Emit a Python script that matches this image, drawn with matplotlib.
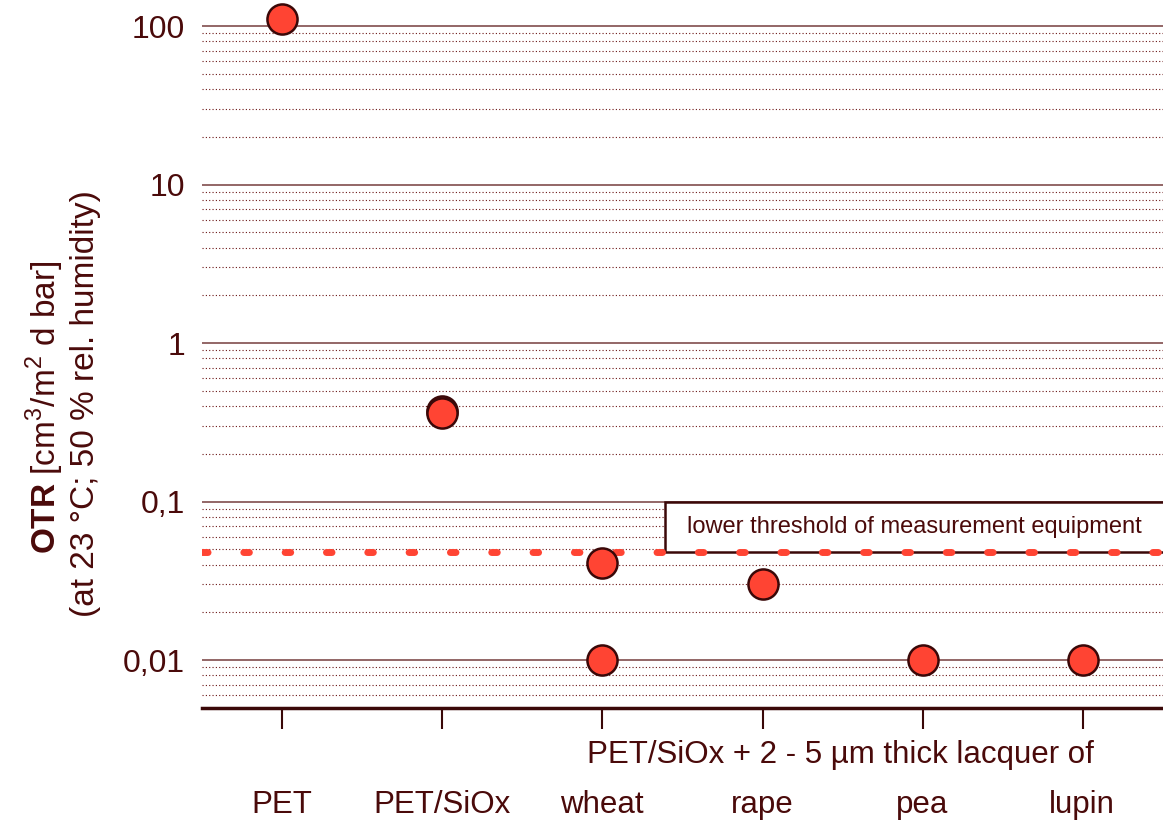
import matplotlib
matplotlib.use("Agg")
import matplotlib.pyplot as plt
from matplotlib.patches import Rectangle
from matplotlib.ticker import NullFormatter, FixedLocator

plt.rcParams['font.family'] = ['Liberation Sans', 'DejaVu Sans']
plt.rcParams['mathtext.fontset'] = 'custom'
plt.rcParams['mathtext.rm'] = 'Liberation Sans'
plt.rcParams['mathtext.bf'] = 'Liberation Sans:bold'

# ---- data ----
categories = ["PET", "PET/SiOx", "wheat", "rape", "pea", "lupin"]
point_cat = [0, 1, 1, 2, 2, 3, 4, 5]
point_otr = [110, 0.37, 0.36, 0.041, 0.01, 0.030, 0.01, 0.01]
threshold = 0.048
ytick_vals = [0.01, 0.1, 1, 10, 100]
ytick_labels = ["0,01", "0,1", "1", "10", "100"]
group_label = "PET/SiOx + 2 - 5 µm thick lacquer of"
threshold_label = "lower threshold of measurement equipment"

TXT = "#4a0a0a"
RED = "#ff4433"
EDGE = "#3a0808"

fig = plt.figure(figsize=(11.63, 8.24), dpi=100)
ax = fig.add_axes([202/1163, 116/824, 1 - 202/1163, 1 - 116/824])
ax.set_yscale("log")
ax.set_ylim(0.00498, 146)
ax.set_xlim(0, len(categories))

# gridlines
for d in ytick_vals:
    ax.axhline(d, color="#8a5a5a", lw=1.3, zorder=1)
    for m in range(2, 10):
        v = d * m
        if v < 146:
            ax.axhline(v, color="#6a1515", lw=0.8, ls=(0, (1, 2)), zorder=1)
for m in range(5, 10):
    ax.axhline(0.001 * m, color="#6a1515", lw=0.8, ls=(0, (1, 2)), zorder=1)

# threshold box
x0 = (665 - 202) / 160
ax.add_patch(Rectangle((x0, threshold), 10, 0.1 - threshold, facecolor="white",
                       edgecolor=EDGE, lw=1.8, zorder=2, clip_on=True))
ax.text((914 - 202) / 160, (0.1 * threshold) ** 0.5, threshold_label,
        ha="center", va="center", fontsize=17, color=TXT, zorder=3)

# threshold line
ax.plot([0, len(categories)], [threshold, threshold], color=RED, lw=5,
        ls=(0, (0.8, 5.15)), dash_capstyle="round", zorder=3)

# points
xs = [c + 0.5 for c in point_cat]
ax.scatter(xs, point_otr, s=470, facecolor=RED, edgecolor=EDGE, linewidths=1.8,
           zorder=5, clip_on=False)

# axes styling
for s in ["top", "right", "left"]:
    ax.spines[s].set_visible(False)
ax.spines["bottom"].set_color(EDGE)
ax.spines["bottom"].set_linewidth(2.5)
ax.yaxis.set_major_locator(FixedLocator(ytick_vals))
ax.set_yticklabels(ytick_labels)
ax.yaxis.set_minor_formatter(NullFormatter())
ax.tick_params(axis="y", which="both", length=0, labelsize=23, labelcolor=TXT, pad=12)
ax.set_xticks([c + 0.5 for c in range(len(categories))])
ax.set_xticklabels([])
ax.tick_params(axis="x", length=15, width=1.5, color=EDGE, direction="out")

for i, c in enumerate(categories):
    fig.text((202 + 80 + 160 * i) / 1163, 1 - 805 / 824, c, ha="center", va="center",
             fontsize=22.5, color=TXT)
fig.text(840 / 1163, 1 - 755 / 824, group_label, ha="center", va="center",
         fontsize=22.5, color=TXT)

# y label
fig.text(45 / 1163, 1 - 407 / 824, r"$\bf{OTR}$ [cm$^3$/m$^2$ d bar]", rotation=90,
         ha="center", va="center", fontsize=24, color=TXT)
fig.text(86 / 1163, 1 - 404 / 824, "(at 23 °C; 50 % rel. humidity)", rotation=90,
         ha="center", va="center", fontsize=24, color=TXT)

fig.savefig("out.png", dpi=100)
